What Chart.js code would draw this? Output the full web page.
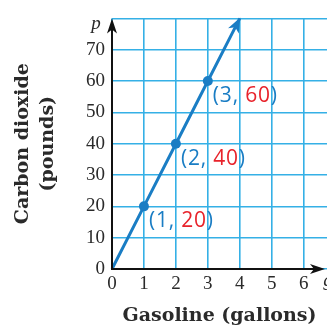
<!DOCTYPE html>
<html>
<head>
<meta charset="utf-8">
<script src="https://cdn.jsdelivr.net/npm/chart.js@4"></script>
<style>
  html, body { margin: 0; padding: 0; background: #fff; }
  #wrap { width: 327px; height: 327px; position: relative; }
</style>
</head>
<body>
<div id="wrap"><canvas id="chart"></canvas></div>
<script>
// gallons of gasoline burned vs pounds of CO2 released
const gallons = [0, 1, 2, 3, 4];
const pounds = [0, 20, 40, 60, 80];
const labeledIdx = [1, 2, 3];
const xTicks = [0, 1, 2, 3, 4, 5, 6];
const yTicks = [0, 10, 20, 30, 40, 50, 60, 70];

const BLUE = '#1a7dc4';
const RED = '#e8232b';
const GRID = '#35b0e6';
const INK = '#2a2a2a';
const SERIF = '"Liberation Serif", "DejaVu Serif", serif';
const TITLE_SERIF = '"DejaVu Serif", serif';

// axes with arrowheads, axis letters, and coordinate labels
const decorations = {
    id: 'decorations',
    afterDatasetsDraw(chart) {
        const { ctx, chartArea, scales } = chart;
        const x0 = scales.x.getPixelForValue(0);
        const y0 = scales.y.getPixelForValue(0);
        ctx.save();
        ctx.strokeStyle = '#111';
        ctx.fillStyle = '#111';
        ctx.lineWidth = 2;
        // y axis
        ctx.beginPath();
        ctx.moveTo(x0, y0 + 1);
        ctx.lineTo(x0, chartArea.top + 4);
        ctx.stroke();
        ctx.beginPath();
        ctx.moveTo(x0, chartArea.top);
        ctx.lineTo(x0 - 5, chartArea.top + 15);
        ctx.lineTo(x0, chartArea.top + 11);
        ctx.lineTo(x0 + 5, chartArea.top + 15);
        ctx.closePath();
        ctx.fill();
        // x axis
        const xEnd = chartArea.right - 2;
        ctx.beginPath();
        ctx.moveTo(x0 - 1, y0);
        ctx.lineTo(xEnd - 4, y0);
        ctx.stroke();
        ctx.beginPath();
        ctx.moveTo(xEnd, y0);
        ctx.lineTo(xEnd - 15, y0 - 5);
        ctx.lineTo(xEnd - 11, y0);
        ctx.lineTo(xEnd - 15, y0 + 5);
        ctx.closePath();
        ctx.fill();

        // axis letters
        ctx.fillStyle = INK;
        ctx.font = 'italic 19px ' + SERIF;
        ctx.textAlign = 'center';
        ctx.textBaseline = 'alphabetic';
        ctx.fillText('p', x0 - 16, chartArea.top + 11);
        ctx.fillText('g', chartArea.right + 1, y0 + 17);

        // arrowhead on the data line
        const meta = chart.getDatasetMeta(0);
        const last = meta.data[meta.data.length - 1];
        const prev = meta.data[meta.data.length - 2];
        const ang = Math.atan2(last.y - prev.y, last.x - prev.x);
        ctx.save();
        ctx.translate(last.x, last.y);
        ctx.rotate(ang);
        ctx.fillStyle = BLUE;
        ctx.beginPath();
        ctx.moveTo(1, 0);
        ctx.lineTo(-14, -6);
        ctx.lineTo(-10, 0);
        ctx.lineTo(-14, 6);
        ctx.closePath();
        ctx.fill();
        ctx.restore();

        // coordinate labels "(x, y)"
        ctx.font = '21px "Open Sans", "Noto Sans", sans-serif';
        ctx.letterSpacing = '0.8px';
        ctx.textAlign = 'left';
        ctx.textBaseline = 'middle';
        labeledIdx.forEach(i => {
            const pt = meta.data[i];
            const parts = [
                ['(' + gallons[i] + ', ', BLUE],
                [String(pounds[i]), RED],
                [')', BLUE]
            ];
            let x = pt.x + 5;
            const y = pt.y + 15;
            parts.forEach(([txt, col]) => {
                ctx.fillStyle = col;
                ctx.fillText(txt, x, y);
                x += ctx.measureText(txt).width;
            });
        });
        ctx.restore();
    }
};

new Chart(document.getElementById('chart'), {
    type: 'scatter',
    data: {
        datasets: [{
            data: gallons.map((g, i) => ({ x: g, y: pounds[i] })),
            showLine: true,
            borderColor: BLUE,
            backgroundColor: BLUE,
            borderWidth: 3,
            pointRadius: gallons.map((g, i) => labeledIdx.includes(i) ? 5 : 0),
            pointBorderWidth: 0,
            clip: false
        }]
    },
    options: {
        responsive: true,
        maintainAspectRatio: false,
        animation: false,
        layout: { padding: { top: 12, right: 0, left: 0, bottom: 0 } },
        plugins: {
            legend: { display: false },
            tooltip: { enabled: false }
        },
        scales: {
            x: {
                type: 'linear',
                min: 0,
                max: 6.73,
                afterBuildTicks: s => { s.ticks = xTicks.map(v => ({ value: v })); },
                afterFit: s => { s.height = 58; },
                border: { display: false },
                grid: { color: GRID, lineWidth: 1.6, drawTicks: false },
                ticks: {
                    color: INK,
                    padding: 4,
                    font: { family: SERIF, size: 19 }
                },
                title: {
                    display: true,
                    text: 'Gasoline (gallons)',
                    color: INK,
                    padding: { top: 0, bottom: 0 },
                    font: { family: TITLE_SERIF, size: 19, weight: 'bold' }
                }
            },
            y: {
                type: 'linear',
                min: 0,
                max: 80,
                afterBuildTicks: s => { s.ticks = yTicks.concat([80]).map(v => ({ value: v })); },
                afterFit: s => { s.width = 112; },
                border: { display: false },
                grid: { color: GRID, lineWidth: 1.6, drawTicks: false },
                ticks: {
                    color: INK,
                    padding: 7,
                    font: { family: SERIF, size: 19 },
                    callback: v => v === 80 ? '' : v
                },
                title: {
                    display: true,
                    text: ['Carbon dioxide', '(pounds)'],
                    color: INK,
                    padding: { top: 10, bottom: 0 },
                    font: { family: TITLE_SERIF, size: 19, weight: 'bold', lineHeight: 1.35 }
                }
            }
        }
    },
    plugins: [decorations]
});
</script>
</body>
</html>
